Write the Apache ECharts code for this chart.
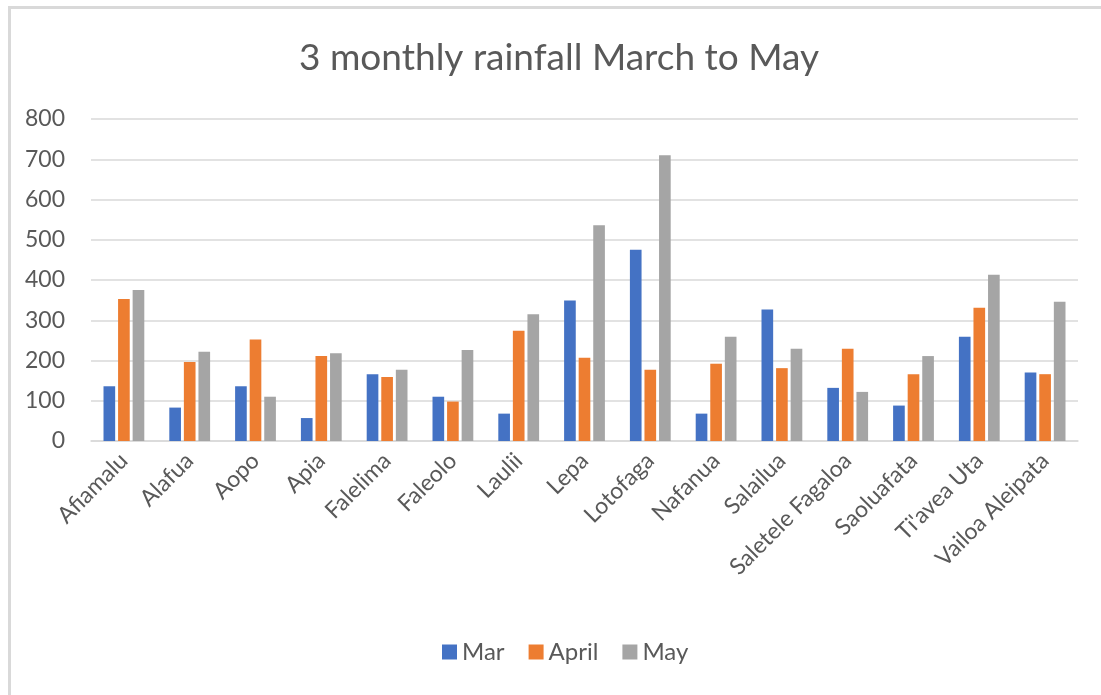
<!DOCTYPE html>
<html>
<head>
<meta charset="utf-8">
<script src="https://cdn.jsdelivr.net/npm/echarts@6/dist/echarts.min.js"></script>
<style>html,body{margin:0;padding:0;background:#fff;}#c{width:1101px;height:695px;}</style>
</head>
<body>
<div id="c"></div>
<script>
const categories = ["Afiamalu","Alafua","Aopo","Apia","Falelima","Faleolo","Laulii","Lepa","Lotofaga","Nafanua","Salailua","Saletele Fagaloa","Saoluafata","Ti'avea Uta","Vailoa Aleipata"];
const marValues   = [136, 83, 136, 57, 166, 110, 68, 349, 475, 68, 327, 132, 88, 259, 170];
const aprilValues = [353, 196, 252, 211, 159, 98, 274, 207, 177, 192, 181, 229, 166, 331, 166];
const mayValues   = [375, 222, 110, 218, 177, 226, 315, 536, 710, 259, 229, 122, 211, 413, 346];
const yTicks = [0, 100, 200, 300, 400, 500, 600, 700, 800];

const FONT = "Lato";
const chart = echarts.init(document.getElementById('c'), null, {renderer: 'canvas'});
chart.setOption({
  animation: false,
  backgroundColor: '#fff',
  title: {
    text: '3 monthly rainfall March to May',
    left: 294, top: 35,
    textStyle: {fontFamily: FONT, fontSize: 37, fontWeight: 'normal', color: '#595959'}
  },
  graphic: [{
    type: 'rect', left: 7, top: 5, silent: true,
    shape: {width: 1200, height: 800},
    style: {fill: 'none', stroke: '#D9D9D9', lineWidth: 3}
  }],
  legend: {
    bottom: 26, left: 437,
    itemWidth: 15, itemHeight: 15, itemGap: 24,
    icon: 'rect',
    textStyle: {fontFamily: FONT, fontSize: 24, color: '#595959'},
    data: ['Mar', 'April', 'May']
  },
  grid: {left: 91, right: 23, top: 119, bottom: 254, containLabel: false},
  xAxis: {
    type: 'category', data: categories,
    axisLine: {show: true, lineStyle: {color: '#D9D9D9', width: 1.5}},
    axisTick: {show: false},
    axisLabel: {rotate: 45, interval: 0, fontFamily: FONT, fontSize: 23, color: '#595959', margin: 16}
  },
  yAxis: {
    type: 'value', min: yTicks[0], max: yTicks[yTicks.length-1], interval: 100,
    axisLine: {show: false}, axisTick: {show: false},
    splitLine: {lineStyle: {color: '#D9D9D9', width: 1.5}},
    axisLabel: {fontFamily: FONT, fontSize: 23, color: '#595959', margin: 26}
  },
  series: [
    {name: 'Mar', type: 'bar', data: marValues, itemStyle: {color: '#4472C4'}, barGap: '25%', barCategoryGap: '38%'},
    {name: 'April', type: 'bar', data: aprilValues, itemStyle: {color: '#ED7D31'}, barGap: '25%', barCategoryGap: '38%'},
    {name: 'May', type: 'bar', data: mayValues, itemStyle: {color: '#A5A5A5'}, barGap: '25%', barCategoryGap: '38%'}
  ]
});
</script>
</body>
</html>
